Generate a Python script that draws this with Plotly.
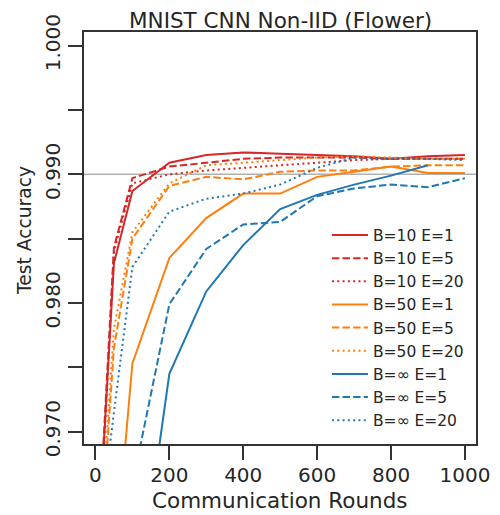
import plotly.graph_objects as go

ROUNDS = [20, 50, 100, 200, 300, 400, 500, 600, 700, 800, 900, 1000]

B10_E1 = [0.9677, 0.9831, 0.9887, 0.9909, 0.9915, 0.9917, 0.9916, 0.9915, 0.9914, 0.9912, 0.9914, 0.9915]
B10_E5 = [0.9682, 0.9843, 0.9897, 0.9906, 0.9909, 0.9912, 0.9913, 0.9913, 0.9913, 0.9912, 0.9912, 0.9912]
B10_E20 = [0.9670, 0.9840, 0.9893, 0.9900, 0.9903, 0.9905, 0.9907, 0.9909, 0.9911, 0.9912, 0.9912, 0.9912]
B50_E1 = [0.9450, 0.9589, 0.9753, 0.9835, 0.9866, 0.9885, 0.9885, 0.9898, 0.9902, 0.9906, 0.9901, 0.9901]
B50_E5 = [0.9640, 0.9765, 0.9850, 0.9891, 0.9898, 0.9896, 0.9902, 0.9903, 0.9903, 0.9906, 0.9907, 0.9907]
B50_E20 = [0.9650, 0.9780, 0.9855, 0.9893, 0.9907, 0.9909, 0.9911, 0.9913, 0.9914, 0.9913, 0.9912, 0.9912]
BINF_E1 = [0.9350, 0.9450, 0.9540, 0.9745, 0.9809, 0.9845, 0.9873, 0.9884, 0.9892, 0.9899, 0.9907, None]
BINF_E5 = [0.9450, 0.9550, 0.9659, 0.9799, 0.9842, 0.9861, 0.9863, 0.9883, 0.9889, 0.9892, 0.9890, 0.9897]
BINF_E20 = [0.9644, 0.9715, 0.9828, 0.9871, 0.9881, 0.9885, 0.9892, 0.9905, 0.9913, 0.9912, 0.9912, 0.9911]

SERIES = [
    ("B=10 E=1", B10_E1, "#d62728", "solid"),
    ("B=10 E=5", B10_E5, "#d62728", "7.4px,3.2px"),
    ("B=10 E=20", B10_E20, "#d62728", "2px,3.3px"),
    ("B=50 E=1", B50_E1, "#ff7f0e", "solid"),
    ("B=50 E=5", B50_E5, "#ff7f0e", "7.4px,3.2px"),
    ("B=50 E=20", B50_E20, "#ff7f0e", "2px,3.3px"),
    ("B=∞ E=1", BINF_E1, "#1f77b4", "solid"),
    ("B=∞ E=5", BINF_E5, "#1f77b4", "7.4px,3.2px"),
    ("B=∞ E=20", BINF_E20, "#1f77b4", "2px,3.3px"),
]

X_TICKS = [0, 200, 400, 600, 800, 1000]
Y_TICKS = [0.970, 0.975, 0.980, 0.985, 0.990, 0.995, 1.000]
Y_TICK_TEXT = ["0.970", "", "0.980", "", "0.990", "", "1.000"]
TARGET = 0.990

TXT = "#262626"
FONT = "DejaVu Sans"

# The page body adds an 8px offset; lay the figure out in screen pixels.
OFF = 8
W, H = 500 - OFF, 515 - OFF
P_LEFT, P_RIGHT, P_TOP, P_BOTTOM = 84, 476, 32, 444  # plot box in screen px
L = P_LEFT - OFF
R = W - (P_RIGHT - OFF)
T = P_TOP - OFF
B = H - (P_BOTTOM - OFF)
PW, PH = P_RIGHT - P_LEFT, P_BOTTOM - P_TOP


def px_x(sx):
    return (sx - P_LEFT) / PW


def px_y(sy):
    return (P_BOTTOM - sy) / PH


fig = go.Figure()
for i, (name, vals, color, dash) in enumerate(SERIES):
    fig.add_trace(go.Scatter(
        x=ROUNDS, y=vals, mode="lines", name=name,
        line=dict(color=color, width=2, dash=dash),
        legendgroup=f"g{i}",
    ))

fig.add_hline(y=TARGET, line=dict(color="#b0b0b0", width=1.5), layer="below")

fig.add_annotation(text="Communication Rounds", xref="paper", yref="paper",
                   x=0.5, y=px_y(500.5), xanchor="center", yanchor="middle",
                   showarrow=False, font=dict(size=21.5, color=TXT))
fig.add_annotation(text="Test Accuracy", xref="paper", yref="paper",
                   x=px_x(24), y=px_y(231), xanchor="center", yanchor="middle",
                   textangle=-90, showarrow=False, font=dict(size=18.7, color=TXT))
fig.add_annotation(text="MNIST CNN Non-IID (Flower)", xref="paper", yref="paper",
                   x=0.5, y=px_y(20), xanchor="center", yanchor="middle",
                   showarrow=False, font=dict(size=21.5, color=TXT))

fig.update_layout(
    width=W, height=H,
    margin=dict(l=L, r=R, t=T, b=B, autoexpand=False),
    plot_bgcolor="white", paper_bgcolor="white",
    font=dict(family=FONT, color=TXT),
    showlegend=True,
    legend=dict(x=0.982, y=0.016, xanchor="right", yanchor="bottom",
                bgcolor="rgba(0,0,0,0)", font=dict(size=15.5, color=TXT),
                traceorder="grouped", tracegroupgap=0, itemwidth=36),
)

fig.update_xaxes(
    range=[-31, 1030], tickvals=X_TICKS, ticks="outside", ticklen=14, tickwidth=1.5,
    tickcolor="#333", showline=True, linecolor="#333", linewidth=1.5, mirror=True,
    showgrid=False, zeroline=False, tickfont=dict(size=20, color=TXT), automargin=False,
    ticklabelstandoff=-2,
)
fig.update_yaxes(
    range=[0.96904, 1.00106], tickvals=Y_TICKS, ticktext=Y_TICK_TEXT, tickangle=-90,
    ticks="outside", ticklen=14, tickwidth=1.5, tickcolor="#333",
    showline=True, linecolor="#333", linewidth=1.5, mirror=True,
    showgrid=False, zeroline=False, tickfont=dict(size=20, color=TXT), automargin=False,
)

fig.write_html("out.html")
